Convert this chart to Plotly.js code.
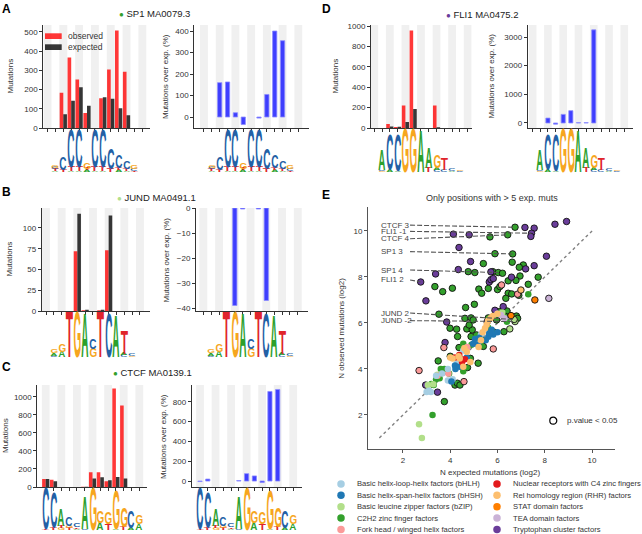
<!DOCTYPE html>
<html><head><meta charset="utf-8">
<script src="https://cdn.plot.ly/plotly-3.0.1.min.js"></script>
<style>html,body{margin:0;padding:0;background:#fff}#chart{width:642px;height:534px}</style>
</head><body><div id="chart"></div>
<script>
// ---------------- DATA ----------------
const positions = [0,1,2,3,4,5,6,7,8,9,10,11,12];

const sp1Observed = [0,0,183,367,252,78,0,155,305,507,293,0,0];
const sp1Expected = [0,0,72,142,212,116,0,160,152,103,67,0,0];
const sp1OverExp  = [null,null,160,163,20,-35,null,-5,105,400,355,null,null];

const jundObserved = [0,0,0,0,72,1,0,1,73,0,0,0,0];
const jundExpected = [0,0,0,0,117,1.5,0,1.5,115,0,0,0,0];
const jundOverExp  = [null,null,null,null,-39,-0.4,null,-0.4,-37,null,null,null,null];

const ctcfObserved = [88,80,0,0,0,2,165,163,65,1095,905,0,0];
const ctcfExpected = [90,65,0,0,0,2,95,108,75,110,95,0,0];
const ctcfOverExp  = [-5,20,null,null,null,5,75,52,-15,905,925,null,null];

const fli1Observed = [0,0,40,10,220,957,0,0,220,0,0,0,0];
const fli1Expected = [0,0,15,12,60,187,0,0,8,0,0,0,0];
const fli1OverExp  = [null,null,170,-40,300,430,12,12,3250,null,null,null,null];

// sequence logos: per position, stacked letters bottom -> top with height in bits
const sp1Logo = [[],[['A',0.05],['T',0.08],['C',0.08],['G',0.1]],[['T',0.12],['C',0.6]],[['A',0.05],['T',0.2],['C',1.7]],[['A',0.05],['T',0.2],['C',1.7]],
  [['A',0.08],['T',0.08],['G',0.3]],[['A',0.05],['T',0.2],['C',1.7]],[['A',0.05],['T',0.2],['C',1.7]],[['T',0.15],['C',0.95]],[['A',0.08],['T',0.12],['C',0.55]],
  [['A',0.06],['T',0.1],['C',0.35]],[['T',0.05],['C',0.08],['G',0.15]],[]];
const jundLogo = [[],[['C',0.06],['A',0.12],['G',0.15]],[['A',0.25],['G',0.35]],[['T',1.97]],[['G',1.95]],[['A',1.9]],[['G',0.4],['C',0.45]],
  [['T',1.97]],[['C',1.9]],[['A',1.8]],[['C',0.08],['A',0.08],['T',1.0]],[['G',0.05],['C',0.08]],[]];
const ctcfLogo = [[['T',0.05],['C',1.9]],[['T',0.1],['C',1.6]],[['G',0.1],['T',0.12],['A',0.75]],[['T',0.1],['G',0.12],['C',0.4]],[['A',0.05],['T',0.08],['C',0.18]],
  [['C',0.05],['A',1.5]],[['G',1.95]],[['A',0.35],['G',0.55]],[['T',0.3],['G',0.55]],[['A',0.05],['G',1.8]],[['T',0.15],['G',0.9]],[['A',0.1],['C',0.75]],[['A',0.3],['G',0.4]]];
const fli1Logo = [[],[['G',0.05],['C',0.05],['A',0.9]],[['A',0.08],['C',1.55]],[['A',0.05],['C',1.6]],[['G',1.95]],[['G',1.95]],[['A',1.85]],
  [['T',0.2],['A',0.9]],[['C',0.1],['A',0.1],['G',0.55]],[['C',0.1],['T',0.5]],[['A',0.05],['C',0.12]],[['C',0.06],['G',0.06]],[]];

// panel E: [expected log2, observed log2, significant]
const familyNames = ['Basic helix-loop-helix factors (bHLH)','Basic helix-span-helix factors (bHSH)','Basic leucine zipper factors (bZIP)',
  'C2H2 zinc finger factors','Fork head / winged helix factors','Nuclear receptors with C4 zinc fingers','Rel homology region (RHR) factors',
  'STAT domain factors','TEA domain factors','Tryptophan cluster factors'];
const bhlhPoints = [[3.00,3.00,0],[3.18,3.00,0],[3.90,3.50,0],[3.40,3.70,0],[3.90,4.00,0],[4.30,4.30,0],[5.30,5.50,0],[6.00,6.40,0],[4.55,4.80,0],[3.65,3.80,0],[4.10,3.55,0],[3.10,3.05,0]];
const bhshPoints = [[5.82,5.50,0],[5.61,5.40,0],[5.23,5.36,0],[4.97,5.10,0],[5.18,5.05,0],[4.20,4.15,0],[4.22,4.00,0],[5.75,5.70,0],[6.00,5.60,0],[5.50,5.25,0],[4.70,4.50,0],[4.40,4.10,0],[5.65,5.55,0],[5.05,5.30,0],[4.05,3.45,0]];
const bzipPoints = [[6.74,6.06,1],[6.70,6.15,1],[6.52,5.74,1],[2.68,1.60,0],[2.80,1.00,0],[3.28,3.33,0],[3.05,3.30,0],[3.45,3.75,0],[6.20,6.45,0]];
const c2h2Points = [[6.74,10.16,1],[5.68,9.74,1],[6.43,9.83,1],[5.89,9.01,1],[6.64,9.00,1],[6.62,8.64,1],[5.40,8.58,1],[7.09,8.52,1],[6.92,8.42,1],[4.76,8.23,1],
  [5.04,8.19,1],[5.80,8.23,1],[6.03,8.19,1],[6.21,8.16,1],[7.72,7.99,1],[6.95,8.04,1],[6.45,7.83,1],[6.78,7.85,1],[3.35,7.58,1],[7.30,7.68,1],
  [5.21,7.47,1],[5.33,7.29,1],[5.61,7.50,1],[6.00,7.45,1],[6.10,7.58,1],[4.09,7.51,1],[3.68,7.36,1],[6.45,7.29,1],[6.35,7.07,1],[6.60,7.26,1],
  [6.90,7.20,1],[5.02,6.81,1],[4.65,6.67,1],[3.52,6.38,1],[6.10,6.50,1],[6.40,6.52,1],[6.30,6.30,1],[6.80,6.30,1],[6.85,6.20,1],[4.62,6.20,1],
  [4.88,6.22,1],[4.97,6.13,1],[5.61,6.22,1],[5.96,6.13,1],[3.99,5.77,1],[4.27,5.73,1],[4.70,5.74,1],[4.93,5.70,1],[4.80,5.91,1],[4.31,5.41,1],
  [4.88,5.41,1],[5.11,5.48,1],[5.85,5.60,1],[6.27,5.62,1],[4.37,4.93,1],[5.40,4.98,1],[3.49,4.35,1],[4.85,4.46,1],[5.18,4.25,1],[4.73,4.06,1],
  [4.20,3.30,1],[4.30,3.38,1],[4.41,3.30,1],[3.75,2.58,1],[5.30,5.35,1],[4.00,4.55,1],
  [7.30,7.25,0],[6.40,6.05,0],[5.10,5.40,0],[4.55,5.10,0],[5.30,5.20,0],[3.60,4.00,0],[3.75,4.00,0],[3.95,3.80,0],[4.55,3.90,0],[3.40,3.55,0],
  [3.55,3.60,0],[3.25,2.00,0],[4.90,5.05,0],[3.30,3.30,0],[5.60,5.80,0],[3.20,3.35,0]];
const forkheadPoints = [[6.17,7.65,1],[6.85,7.25,1],[3.73,4.93,1],[2.68,3.93,1],[5.82,4.87,1],[4.58,3.45,1],[3.46,3.70,0],[4.60,4.90,0],[4.72,4.95,0],[3.92,3.80,0],[4.65,4.85,0]];
const nuclearPoints = [[4.38,4.61,0],[4.62,4.42,0],[4.50,4.30,0],[4.20,4.50,0]];
const relPoints = [[5.37,5.60,0],[5.47,5.77,0],[5.54,5.92,0],[5.30,5.25,0],[4.70,4.75,0],[4.00,4.50,0],[4.10,4.45,0],[4.40,4.45,0],[4.55,4.10,0],[4.85,4.30,0],
  [5.70,6.20,0],[6.00,6.40,0],[5.80,6.30,0],[4.60,4.90,0],[5.60,6.10,0],[5.20,4.95,0],[4.35,4.55,0],[6.99,7.43,1]];
const statPoints = [[7.58,7.00,1],[6.57,6.32,1]];
const teaPoints = [[8.17,7.07,1],[6.14,6.35,0],[6.30,6.20,0]];
const trpPoints = [[8.92,10.41,1],[8.43,10.29,1],[7.16,10.15,1],[7.55,10.12,1],[7.44,9.90,1],[7.41,9.76,1],[4.13,9.86,1],[4.80,9.83,1],[4.37,9.28,1],[8.07,8.90,1],
  [4.86,8.67,1],[7.55,8.49,1],[7.19,8.35,1],[4.34,8.32,1],[3.38,8.13,1],[5.72,8.22,1],[6.59,7.99,1],[5.65,7.78,1],[5.72,7.88,1],[5.82,7.93,1],
  [2.75,7.78,1],[2.97,6.96,1],[6.24,6.71,1],[5.89,6.55,1],[3.85,6.04,1],[5.56,6.05,1],[3.78,5.15,1],[2.96,3.30,1],[3.46,2.99,1]];

const labelNames = ['CTCF 3','FLI1 -1','CTCF 4','SP1 3','SP1 4','FLI1 2','JUND 2','JUND -2'];
const labelPointExp = [6.74,7.44,6.43,6.64,6.03,2.75,6.70,6.74];
const labelPointObs = [10.16,9.90,9.83,9.00,8.19,7.78,6.15,6.06];
const labelTextObs = [10.25,9.98,9.66,9.10,8.30,7.87,6.43,6.10];
const identityLine = [1,10];

// ---------------- STYLE / LAYOUT ----------------
const W = 642, H = 534;
const FONT = 'Liberation Sans, Arial, sans-serif';
const xd = (a,b)=>[a/W, b/W];
const yd = (top,bot)=>[1-bot/H, 1-top/H];
const FAM_COLORS = ['#a6cee3','#1f78b4','#b2df8a','#33a02c','#fb9a99','#e31a1c','#fdbf6f','#ff7f00','#cab2d6','#6a3d9a'];
const LOGO_COLORS = {A:'#2ca02c', C:'#2360a5', G:'#f6a61e', T:'#e0242b'};
const LOGO_FS = 8;

const axBase = {showline:true, linecolor:'#333', linewidth:1, ticks:'outside', ticklen:3, tickwidth:1, tickcolor:'#333',
  showgrid:false, zeroline:false, tickfont:{size:8, color:'#333', family:FONT}, fixedrange:true};

const panels = [
  {letter:'A', letterPos:[0,0], obs:sp1Observed, exp:sp1Expected, pct:sp1OverExp, logo:sp1Logo, title:'SP1 MA0079.3', fam:3, titlePos:[117,14],
   yTop:25, yBot:128, L:{x:[43.3,150], r:[-0.53,12.97], y:[0,536], dt:100, tx:10}, R:{x:[194.3,309], r:[-1.23,13.36], y:[-51,428], dt:100, tx:165.5}, logoPx:[133,173], li:1, ri:2, ly:11},
  {letter:'B', letterPos:[0,183], obs:jundObserved, exp:jundExpected, pct:jundOverExp, logo:jundLogo, title:'JUND MA0491.1', fam:2, titlePos:[115,197],
   yTop:208, yBot:311, L:{x:[41.7,150], r:[-0.55,13.28], y:[0,124], dt:25, tx:9}, R:{x:[196,308], r:[-0.93,13.3], y:[-41.2,0], dt:10, tx:166}, logoPx:[317,358], li:3, ri:4, ly:12},
  {letter:'C', letterPos:[0,358], obs:ctcfObserved, exp:ctcfExpected, pct:ctcfOverExp, logo:ctcfLogo, title:'CTCF MA0139.1', fam:3, titlePos:[111,372],
   yTop:385, yBot:487, L:{x:[37.3,146.7], r:[-1.08,12.95], y:[0,1133], dt:200, tx:5}, R:{x:[191.7,301.7], r:[-1.07,13.09], y:[-60,970], dt:200, tx:163}, logoPx:[492,531], li:5, ri:6, ly:13},
  {letter:'D', letterPos:[320,0], obs:fli1Observed, exp:fli1Expected, pct:fli1OverExp, logo:fli1Logo, title:'FLI1 MA0475.2', fam:9, titlePos:[444,15],
   yTop:25, yBot:128, L:{x:[371,471.7], r:[-0.42,12.52], y:[0,1010], dt:200, tx:335}, R:{x:[527.7,633], r:[-0.65,13.14], y:[-175,3420], dt:1000, tx:491}, logoPx:[133,173], li:7, ri:8, ly:14}
];

const data = [];
const layout = {width:W, height:H, margin:{l:0,r:0,t:0,b:0}, paper_bgcolor:'#fff', plot_bgcolor:'rgba(0,0,0,0)',
  showlegend:false, barmode:'overlay', font:{family:FONT, color:'#333', size:8}, annotations:[], shapes:[]};
const ann = layout.annotations, shp = layout.shapes;
const logoMeta = [];
const xr = i => i===1?'x':'x'+i, yr = i => i===1?'y':'y'+i;
const xn = i => i===1?'xaxis':'xaxis'+i, yn = i => i===1?'yaxis':'yaxis'+i;
const px2x = px => px/W, px2y = py => 1-py/H;

function textAnn(o){ return Object.assign({showarrow:false, xref:'paper', yref:'paper', font:{family:FONT, size:8, color:'#333'}}, o); }

// logos first
panels.forEach(p => {
  const ppb = (p.logoPx[1]-p.logoPx[0])/2;
  layout[yn(p.ly)] = {domain:yd(p.logoPx[0]-0.05*ppb, p.logoPx[1]+0.05*ppb), range:[-0.05,2.05], visible:false, anchor:xr(p.li), fixedrange:true};
  [p.L, p.R].forEach((side, s) => {
    const axi = s===0 ? p.li : p.ri;
    const colPx = (side.x[1]-side.x[0])/(side.r[1]-side.r[0]);
    p.logo.forEach((stack, pos) => {
      let cum = 0;
      stack.forEach(([letter, h]) => {
        logoMeta.push({index:ann.length, letter, h:h*ppb, w:colPx*0.95});
        ann.push({xref:xr(axi), yref:yr(p.ly), x:positions[pos], y:cum, text:letter, showarrow:false, xanchor:'center', yanchor:'bottom',
          borderpad:0, font:{family:'Liberation Sans', size:LOGO_FS, color:LOGO_COLORS[letter], weight:'bold'}});
        cum += h;
      });
    });
  });
});

panels.forEach(p => {
  [[p.li, p.L, 'Mutations'], [p.ri, p.R, 'Mutations over exp. (%)']].forEach(([i, side, ttl]) => {
    layout[xn(i)] = Object.assign({}, axBase, {domain:xd(side.x[0], side.x[1]), range:side.r, anchor:yr(i), tickmode:'array', tickvals:positions, showticklabels:false});
    layout[yn(i)] = Object.assign({}, axBase, {domain:yd(p.yTop, p.yBot), range:side.y, anchor:xr(i), tickmode:'linear', tick0:0, dtick:side.dt});
    positions.filter((v,k)=>k%2===0).forEach(v => shp.push({type:'rect', xref:xr(i), yref:yr(i)+' domain', x0:v-0.5, x1:v+0.5, y0:0, y1:1,
      fillcolor:'#f0f0f0', line:{width:0}, layer:'below'}));
    ann.push(textAnn({x:px2x(side.tx), y:px2y((p.yTop+p.yBot)/2), text:ttl, textangle:-90, xanchor:'center', yanchor:'middle'}));
  });
  data.push({type:'bar', x:positions, y:p.obs, xaxis:xr(p.li), yaxis:yr(p.li), offset:-0.46, width:0.46, name:'observed',
    marker:{color:'rgba(255,0,0,0.78)', line:{width:0}}, hoverinfo:'skip'});
  data.push({type:'bar', x:positions, y:p.exp, xaxis:xr(p.li), yaxis:yr(p.li), offset:0, width:0.46, name:'expected',
    marker:{color:'rgba(0,0,0,0.78)', line:{width:0}}, hoverinfo:'skip'});
  data.push({type:'bar', x:positions, y:p.pct, xaxis:xr(p.ri), yaxis:yr(p.ri), offset:-0.27, width:0.54, name:'over',
    marker:{color:'rgba(30,30,255,0.85)', line:{color:'rgba(140,140,255,0.8)', width:1}}, hoverinfo:'skip'});
  ann.push(textAnn({x:px2x(p.letterPos[0]), y:px2y(p.letterPos[1]), text:'<b>'+p.letter+'</b>', xanchor:'left', yanchor:'top', font:{family:FONT, size:12, color:'#000'}}));
  ann.push(textAnn({x:px2x(p.titlePos[0]), y:px2y(p.titlePos[1]), xanchor:'left', yanchor:'middle', font:{family:FONT, size:9.5, color:'#222'},
    text:'<span style="color:'+FAM_COLORS[p.fam]+';font-size:8px">●</span> '+p.title}));
});

// observed / expected keys in panel A
shp.push({type:'rect', xref:'paper', yref:'paper', x0:px2x(45), x1:px2x(61.7), y0:px2y(39), y1:px2y(33.3), fillcolor:'rgba(255,0,0,0.78)', line:{width:0}});
shp.push({type:'rect', xref:'paper', yref:'paper', x0:px2x(45), x1:px2x(61.7), y0:px2y(50), y1:px2y(44.3), fillcolor:'rgba(0,0,0,0.78)', line:{width:0}});
ann.push(textAnn({x:px2x(66), y:px2y(36.3), text:'observed', xanchor:'left', yanchor:'middle', font:{family:FONT, size:8.5, color:'#333'}}));
ann.push(textAnn({x:px2x(66), y:px2y(47.3), text:'expected', xanchor:'left', yanchor:'middle', font:{family:FONT, size:8.5, color:'#333'}}));

// ---------------- PANEL E ----------------
layout.xaxis9 = Object.assign({}, axBase, {domain:xd(368,615), range:[0.52,10.97], anchor:'y9', tickmode:'array', tickvals:[2,4,6,8,10], linecolor:'#555', tickcolor:'#555'});
layout.yaxis9 = Object.assign({}, axBase, {domain:yd(207,449), range:[0.52,11.04], anchor:'x9', tickmode:'array', tickvals:[2,4,6,8,10], linecolor:'#555', tickcolor:'#555'});
data.push({type:'scatter', mode:'lines', x:identityLine, y:identityLine, xaxis:'x9', yaxis:'y9', line:{color:'#808080', dash:'dot', width:1.4}, hoverinfo:'skip'});

const famPoints = [bhlhPoints, bhshPoints, bzipPoints, c2h2Points, forkheadPoints, nuclearPoints, relPoints, statPoints, teaPoints, trpPoints];
[3,9,2,4,8,7,0,1,5,6].forEach(f => {
  const pts = famPoints[f];
  data.push({type:'scatter', mode:'markers', xaxis:'x9', yaxis:'y9', x:pts.map(q=>q[0]), y:pts.map(q=>q[1]), hoverinfo:'skip',
    marker:{size:6.5, color:FAM_COLORS[f], opacity:1, line:{color:'#111', width:pts.map(q=>q[2]?0.9:0)}}});
});
labelNames.forEach((nm, i) => {
  data.push({type:'scatter', mode:'lines', xaxis:'x9', yaxis:'y9', x:[2.3, labelPointExp[i]], y:[labelTextObs[i], labelPointObs[i]],
    line:{color:'#555555', dash:'5px,2px', width:1.1}, hoverinfo:'skip'});
  ann.push({xref:'x9', yref:'y9', x:1.0, y:labelTextObs[i], text:nm, showarrow:false, xanchor:'left', yanchor:'middle', font:{family:FONT, size:8, color:'#444'}});
});
ann.push(textAnn({x:px2x(492), y:px2y(198), text:'Only positions with > 5 exp. muts', xanchor:'center', yanchor:'middle', font:{family:FONT, size:9, color:'#333'}}));
ann.push(textAnn({x:px2x(341.7), y:px2y(328), text:'N observed mutations (log2)', textangle:-90, xanchor:'center', yanchor:'middle'}));
ann.push(textAnn({x:px2x(490), y:px2y(472), text:'N expected mutations (log2)', xanchor:'center', yanchor:'middle'}));
ann.push(textAnn({x:px2x(320), y:px2y(186), text:'<b>E</b>', xanchor:'left', yanchor:'top', font:{family:FONT, size:12, color:'#000'}}));
shp.push({type:'circle', xref:'paper', yref:'paper', x0:px2x(549.8), x1:px2x(556.8), y0:px2y(424.2), y1:px2y(417.2), fillcolor:'#fff', line:{color:'#000', width:1.2}});
ann.push(textAnn({x:px2x(565), y:px2y(420.7), text:'p.value < 0.05', xanchor:'left', yanchor:'middle'}));

// family legend (two columns)
layout.xaxis10 = {domain:xd(330,642), range:[-11/156, 301/156], visible:false, anchor:'y10', fixedrange:true};
layout.yaxis10 = {domain:yd(478,534), range:[4.396,-0.527], visible:false, anchor:'x10', fixedrange:true};
data.push({type:'scatter', mode:'markers', xaxis:'x10', yaxis:'y10', x:familyNames.map((_,i)=>Math.floor(i/5)), y:familyNames.map((_,i)=>i%5),
  marker:{size:7.5, color:FAM_COLORS}, hoverinfo:'skip'});
familyNames.forEach((nm,i) => ann.push({xref:'x10', yref:'y10', x:Math.floor(i/5)+14/156, y:i%5, text:nm, showarrow:false, xanchor:'left', yanchor:'middle',
  font:{family:FONT, size:7.6, color:'#333'}}));

Plotly.newPlot('chart', data, layout, {staticPlot:true, responsive:false}).then(gd => {
  const ctx = document.createElement('canvas').getContext('2d');
  ctx.font = 'bold ' + LOGO_FS + 'px "Liberation Sans"';
  logoMeta.forEach(m => {
    const g = gd.querySelector('g.annotation[data-index="' + m.index + '"]');
    if (!g) return;
    const t = g.querySelector('text');
    if (!t) return;
    const mt = ctx.measureText(m.letter);
    const asc = mt.actualBoundingBoxAscent, desc = mt.actualBoundingBoxDescent;
    const inkL = mt.actualBoundingBoxLeft, inkR = mt.actualBoundingBoxRight;
    const bb = t.getBBox();
    const p = t.getStartPositionOfChar(0);
    const inkCx = p.x + (inkR - inkL)/2;
    const bottom = bb.y + bb.height;
    const cx = bb.x + bb.width/2;
    const sy = m.h / (asc + desc), sx = m.w / (inkL + inkR);
    const tr = 'translate(' + cx + ',' + bottom + ') scale(' + sx + ',' + sy + ') translate(' + (-inkCx) + ',' + (-(p.y + desc)) + ')';
    const prev = t.getAttribute('transform') || '';
    t.setAttribute('transform', (prev + ' ' + tr).trim());
  });
});
</script></body></html>
